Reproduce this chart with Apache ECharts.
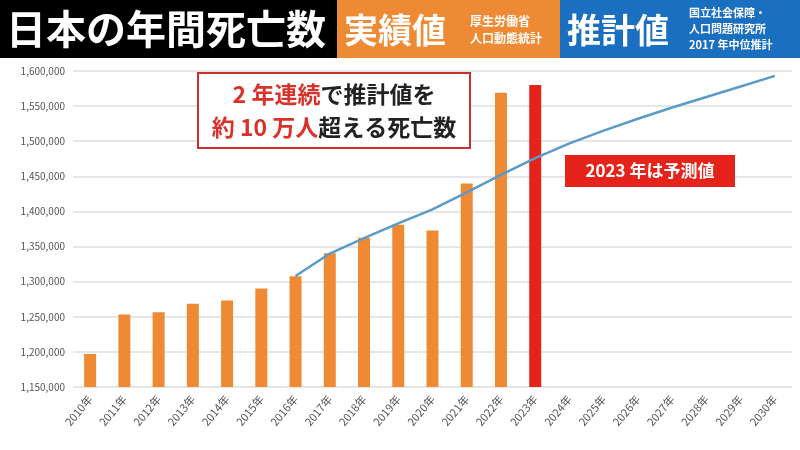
<!DOCTYPE html>
<html><head><meta charset="utf-8">
<script src="https://cdn.jsdelivr.net/npm/echarts@6/dist/echarts.min.js"></script>
<style>html,body{margin:0;background:#fff}#c{width:800px;height:450px}</style>
</head><body><div id="c"></div>
<script>
const years = ['2010年','2011年','2012年','2013年','2014年','2015年','2016年','2017年','2018年','2019年','2020年',
  '2021年','2022年','2023年','2024年','2025年','2026年','2027年','2028年','2029年','2030年'];
// 実績値 (2023 は予測値)
const actual = [1197012,1253066,1256359,1268436,1273004,1290444,1307748,1340397,1362470,1381093,1372755,
  1439856,1569050,null];
const forecast2023 = 1580000;
// 推計値 (2017 年中位推計)
const estimate = [null,null,null,null,null,null,1308000,1340000,1362000,1383000,1403000,
  1427000,1452000,1476000,1497000,1515000,1532000,1548000,1563000,1578000,1593000];

const chart = echarts.init(document.getElementById('c'));
const font = '"Noto Sans CJK JP", "Noto Sans", sans-serif';
const barData = actual.map(v => v);
barData[13] = { value: forecast2023, itemStyle: { color: '#e5231b' } };

chart.setOption({
  animation: false,
  textStyle: { fontFamily: font },
  grid: { left: 73, right: 8, top: 71, bottom: 63 },
  xAxis: {
    type: 'category', data: years,
    axisLine: { show: false }, axisTick: { show: false },
    axisLabel: { rotate: 50, color: '#555', fontSize: 11, margin: 10 }
  },
  yAxis: {
    type: 'value', min: 1150000, max: 1600000, interval: 50000,
    axisLabel: { color: '#555', fontSize: 10, formatter: v => v.toLocaleString('en-US') },
    splitLine: { lineStyle: { color: '#e6e6e6', width: 2 } }
  },
  series: [
    { type: 'bar', data: barData, barWidth: 12, itemStyle: { color: '#ee8a34' } },
    { type: 'line', data: estimate, symbol: 'none', lineStyle: { color: '#5b9bc8', width: 2.5 } }
  ],
  graphic: { elements: [
    { type: 'rect', z: 100, shape: { x: 0, y: 0, width: 337, height: 58 }, style: { fill: '#000' } },
    { type: 'text', z: 101, x: 6, y: 29, style: { text: '日本の年間死亡数', fill: '#fff', font: 'bold 40px ' + font, verticalAlign: 'middle' } },
    { type: 'rect', z: 100, shape: { x: 337, y: 0, width: 223, height: 58 }, style: { fill: '#ee8a34' } },
    { type: 'text', z: 101, x: 344, y: 30, style: { text: '実績値', fill: '#fff', font: 'bold 34px ' + font, verticalAlign: 'middle' } },
    { type: 'text', z: 101, x: 470, y: 30, style: { text: '厚生労働省\n人口動態統計', fill: '#fff', font: 'bold 12px ' + font, lineHeight: 17, verticalAlign: 'middle' } },
    { type: 'rect', z: 100, shape: { x: 560, y: 0, width: 240, height: 58 }, style: { fill: '#1a6fc0' } },
    { type: 'text', z: 101, x: 567, y: 30, style: { text: '推計値', fill: '#fff', font: 'bold 34px ' + font, verticalAlign: 'middle' } },
    { type: 'text', z: 101, x: 689, y: 29, style: { text: '国立社会保障・\n人口問題研究所\n2017 年中位推計', fill: '#fff', font: 'bold 11px ' + font, lineHeight: 16, verticalAlign: 'middle' } },
    { type: 'rect', z: 100, shape: { x: 198, y: 73, width: 272, height: 75 }, style: { fill: '#fff', stroke: '#c9302c', lineWidth: 2 } },
    { type: 'text', z: 101, x: 334, y: 111, style: { align: 'center', verticalAlign: 'middle', rich: {
        r: { fill: '#d9322b', font: 'bold 23px ' + font },
        k: { fill: '#222', font: 'bold 23px ' + font } },
        text: '{r|2 年連続}{k|で推計値を}\n{r|約 10 万人}{k|超える死亡数}', lineHeight: 33 } },
    { type: 'rect', z: 100, shape: { x: 565, y: 155, width: 170, height: 32 }, style: { fill: '#e5231b' } },
    { type: 'text', z: 101, x: 650, y: 171, style: { text: '2023 年は予測値', fill: '#fff', font: 'bold 17px ' + font, align: 'center', verticalAlign: 'middle' } }
  ] }
});
</script></body></html>
